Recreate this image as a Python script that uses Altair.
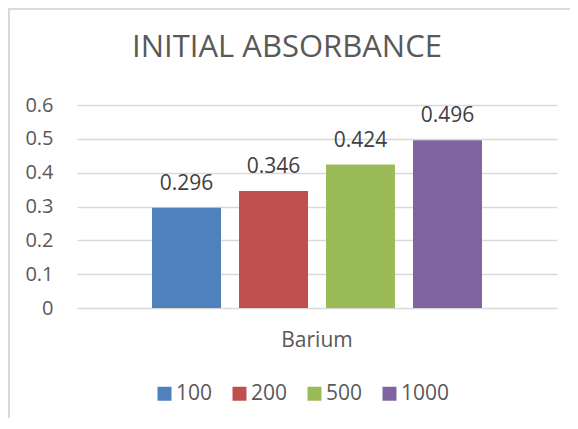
import altair as alt
import pandas as pd

groups = ["Barium", "Barium", "Barium", "Barium"]
series = ["100", "200", "500", "1000"]
values = [0.296, 0.346, 0.424, 0.496]
colors = ["#4F81BD", "#C0504D", "#9BBB59", "#8064A2"]
y_ticks = [0, 0.1, 0.2, 0.3, 0.4, 0.5, 0.6]

df = pd.DataFrame({"group": groups, "series": series, "value": values})

FONT = "Open Sans"

base = alt.Chart(df).encode(
    x=alt.X("group:N", title=None,
            scale=alt.Scale(paddingOuter=0.1897, paddingInner=0),
            axis=alt.Axis(labelAngle=0, labelFontSize=21, labelColor="#595959",
                          labelFont=FONT, labelPadding=21, ticks=False,
                          domain=False, grid=False)),
    xOffset=alt.XOffset("series:N", sort=series,
                        scale=alt.Scale(paddingInner=0.207, paddingOuter=0.1035)),
    y=alt.Y("value:Q", title=None,
            scale=alt.Scale(domain=[0, 0.6]),
            axis=alt.Axis(values=y_ticks, format="~g", labelFontSize=20,
                          labelColor="#595959", labelFont=FONT, labelPadding=24,
                          labelOverlap=False, ticks=False, domain=False,
                          grid=True, gridColor="#D9D9D9", gridWidth=1.3)),
)

bars = base.mark_bar().encode(
    color=alt.Color("series:N", sort=series,
                    scale=alt.Scale(domain=series, range=colors),
                    legend=alt.Legend(title=None, orient="none", legendX=77,
                                      legendY=278, direction="horizontal",
                                      columns=4, symbolType="square",
                                      symbolSize=196, symbolStrokeWidth=0,
                                      labelFontSize=21, labelFont=FONT,
                                      labelColor="#595959", labelOffset=1,
                                      columnPadding=16, padding=0)),
)

labels = base.mark_text(baseline="alphabetic", dy=-18, fontSize=21,
                        font=FONT, color="#404040").encode(
    text=alt.Text("value:Q", format=".3f"),
)

border_left = alt.Chart(df).mark_rule(color="#D9D9D9", strokeWidth=1.5).encode(
    x=alt.value(-68.2), y=alt.value(-96.2), y2=alt.value(330)
)
border_top = alt.Chart(df).mark_rule(color="#D9D9D9", strokeWidth=1.5).encode(
    x=alt.value(-68.2), x2=alt.value(520), y=alt.value(-96.2)
)

chart = alt.layer(bars, labels, border_left, border_top).properties(
    width=480,
    height=203,
    autosize=alt.AutoSizeParams(type="none"),
    padding={"left": 69, "top": 97, "right": 13, "bottom": 110},
    title=alt.Title("INITIAL ABSORBANCE", fontSize=31, font=FONT,
                    fontWeight="normal", color="#595959", anchor="middle",
                    frame="group", baseline="alphabetic", dx=-30, offset=0,
                    dy=80),
).configure_view(stroke=None)

chart.save("out.html", embed_options={"renderer": "svg", "actions": False})
